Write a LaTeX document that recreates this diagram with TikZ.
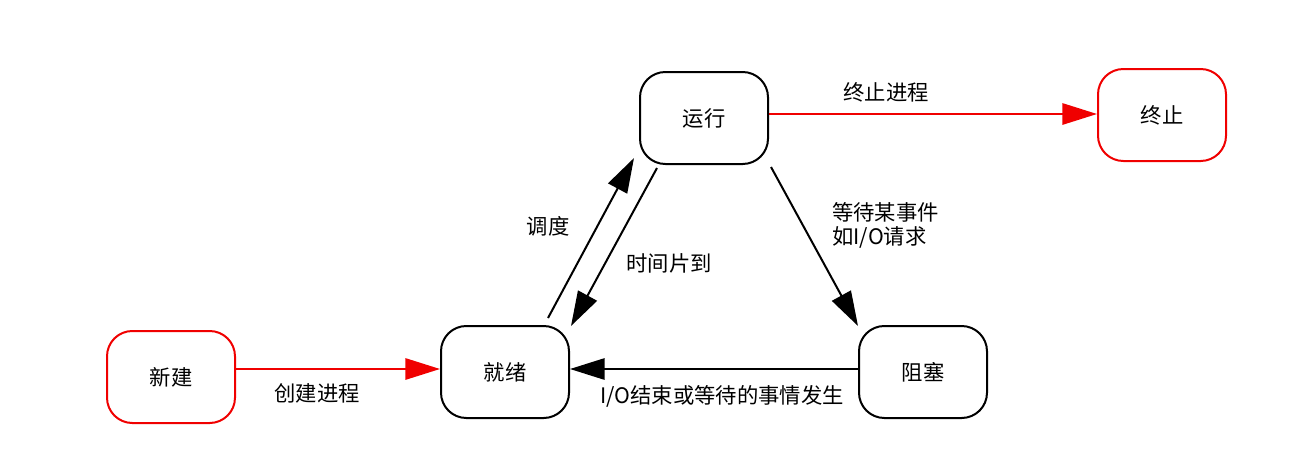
\documentclass[tikz,border=0pt]{standalone}
\usepackage{fontspec}
\setmainfont{Noto Sans CJK SC}
\usetikzlibrary{arrows.meta}
\definecolor{sred}{RGB}{240,0,0}
\tikzset{
  state/.style={draw=black, line width=1.5pt, rounded corners=19pt, minimum width=96pt, minimum height=69pt, inner sep=0pt, font=\fontsize{16}{18}\selectfont},
  redstate/.style={state, draw=sred},
  conn/.style={line width=1.5pt, -{Triangle[length=26pt,width=16pt]}},
  redconn/.style={conn, draw=sred, -{Triangle[length=26pt,width=16pt,fill=sred]}},
  lbl/.style={font=\fontsize{16}{18}\selectfont, inner sep=0pt, align=left}
}
\begin{document}
\begin{tikzpicture}[x=0.75pt,y=-0.75pt]
\useasboundingbox[fill=white] (0,0) rectangle (1313,464);
\node[redstate] (new) at (171,377) {新建};
\node[state] (ready) at (505,372) {就绪};
\node[state] (run) at (704,118) {运行};
\node[redstate] (term) at (1162,115) {终止};
\node[state] (block) at (923,372) {阻塞};
\coordinate (ylow) at (0,369);
\coordinate (yhigh) at (0,114);
\draw[redconn] (new.east |- ylow) -- (ready.west |- ylow);
\draw[redconn] (run.east |- yhigh) -- (term.west |- yhigh);
\draw[conn] ([shift={(43,-54)}]ready.center) -- ([shift={(-70,40)}]run.center);
\draw[conn] ([shift={(-47,50)}]run.center) -- ([shift={(66,-46)}]ready.center);
\draw[conn] ([shift={(67,49)}]run.center) -- ([shift={(-65,-46)}]block.center);
\draw[conn] (block.west |- ylow) -- (ready.east |- ylow);
\node[lbl] (l1) at (317,393) {创建进程};
\node[lbl] (l2) at (886,92) {终止进程};
\node[lbl] (l3) at (548,226) {调度};
\node[lbl] (l4) at (669,263) {时间片到};
\node[lbl, anchor=west] (l5) at (832,225) {等待某事件\\如I/O请求};
\node[lbl] (l6) at (722,396) {I/O结束或等待的事情发生};
\end{tikzpicture}
\end{document}
